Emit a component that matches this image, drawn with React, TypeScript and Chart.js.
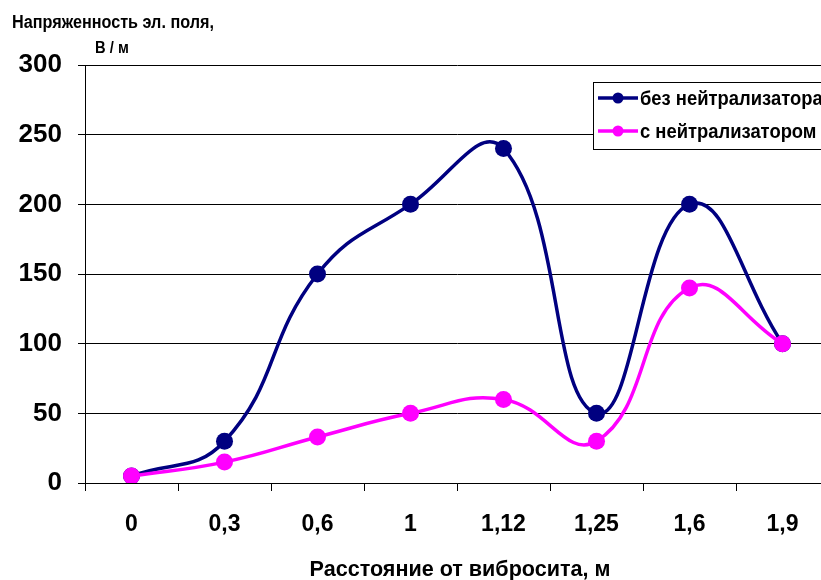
import React, { useEffect, useRef } from "react";
import { Chart, registerables } from "chart.js";

Chart.register(...registerables);

const categories = ["0", "0,3", "0,6", "1", "1,12", "1,25", "1,6", "1,9"];
const withoutNeutralizer = [5, 30, 150, 200, 240, 50, 200, 100];
const withNeutralizer = [5, 15, 33, 50, 60, 30, 140, 100];
const seriesNames = ["без нейтрализатора", "с нейтрализатором"];
const yTitleLines = ["Напряженность эл. поля,", "В / м"];
const xTitle = "Расстояние от вибросита, м";

const NAVY = "#000080";
const MAGENTA = "#FF00FF";
const FONT = "'Liberation Sans', Arial, sans-serif";

function condensedText(ctx: CanvasRenderingContext2D, text: string, x: number, y: number, sx: number) {
  ctx.save();
  ctx.translate(x, y);
  ctx.scale(sx, 1);
  ctx.fillText(text, 0, 0);
  ctx.restore();
}

const textPlugin = {
  id: "customTexts",
  afterDraw(chart: any) {
    const ctx = chart.ctx as CanvasRenderingContext2D;
    ctx.save();
    ctx.fillStyle = "#000";
    ctx.textBaseline = "alphabetic";
    ctx.textAlign = "left";
    ctx.font = `bold 18px ${FONT}`;
    condensedText(ctx, yTitleLines[0], 12, 28, 0.9);
    ctx.font = `bold 16px ${FONT}`;
    condensedText(ctx, yTitleLines[1], 95, 53, 0.92);
    ctx.font = `bold 22px ${FONT}`;
    ctx.textAlign = "center";
    condensedText(ctx, xTitle, 460, 576, 0.98);

    // legend
    const bx = 593, by = 82, bw = 260, bh = 67;
    ctx.fillStyle = "#fff";
    ctx.fillRect(bx, by, bw, bh);
    ctx.strokeStyle = "#000";
    ctx.lineWidth = 1;
    ctx.strokeRect(bx + 0.5, by + 0.5, bw, bh);
    const rows = [
      { y: 98, color: NAVY, name: seriesNames[0] },
      { y: 131, color: MAGENTA, name: seriesNames[1] },
    ];
    ctx.textAlign = "left";
    ctx.textBaseline = "middle";
    ctx.font = `bold 20px ${FONT}`;
    for (const r of rows) {
      ctx.strokeStyle = r.color;
      ctx.lineWidth = 3.5;
      ctx.beginPath();
      ctx.moveTo(598, r.y);
      ctx.lineTo(638, r.y);
      ctx.stroke();
      ctx.fillStyle = r.color;
      ctx.beginPath();
      ctx.arc(618, r.y, 5.5, 0, Math.PI * 2);
      ctx.fill();
      ctx.fillStyle = "#000";
      condensedText(ctx, r.name, 640, r.y + 1, 0.92);
    }
    ctx.restore();
  },
};

export default function App() {
  const ref = useRef<HTMLCanvasElement>(null);
  useEffect(() => {
    if (!ref.current) return;
    const chart = new Chart(ref.current, {
      type: "line",
      data: {
        labels: categories,
        datasets: [
          {
            label: seriesNames[0],
            data: withoutNeutralizer,
            borderColor: NAVY,
            backgroundColor: NAVY,
            borderWidth: 3.5,
            pointRadius: 8.5,
            pointHoverRadius: 8.5,
            pointBorderWidth: 0,
            tension: 0.45,
            order: 1,
          },
          {
            label: seriesNames[1],
            data: withNeutralizer,
            borderColor: MAGENTA,
            backgroundColor: MAGENTA,
            borderWidth: 3.5,
            pointRadius: 8.5,
            pointHoverRadius: 8.5,
            pointBorderWidth: 0,
            tension: 0.45,
            order: 0,
          },
        ],
      },
      options: {
        responsive: false,
        animation: false,
        layout: { padding: { top: 65, right: 11, bottom: 0, left: 0 } },
        plugins: { legend: { display: false }, tooltip: { enabled: false }, title: { display: false } },
        scales: {
          x: {
            type: "category",
            offset: true,
            afterFit: (s: any) => { s.height = 97; },
            grid: { offset: true, drawOnChartArea: false, color: "#000", tickLength: 8, lineWidth: 1 },
            border: { color: "#000", width: 1 },
            ticks: { color: "#000", font: { family: FONT, size: 23, weight: "bold" }, padding: 20, maxRotation: 0 },
          },
          y: {
            min: 0,
            max: 300,
            afterFit: (s: any) => { s.width = 85; },
            grid: { color: "#000", tickLength: 7, lineWidth: 1 },
            border: { color: "#000", width: 1 },
            ticks: { stepSize: 50, color: "#000", font: { family: FONT, size: 26, weight: "bold" }, padding: 16 },
          },
        },
      },
      plugins: [textPlugin],
    });
    return () => chart.destroy();
  }, []);
  return (
    <div style={{ position: "fixed", left: 0, top: 0, width: 821, height: 580, overflow: "hidden", background: "#fff" }}>
      <canvas ref={ref} width={840} height={580} style={{ width: 840, height: 580, display: "block" }} />
    </div>
  );
}
